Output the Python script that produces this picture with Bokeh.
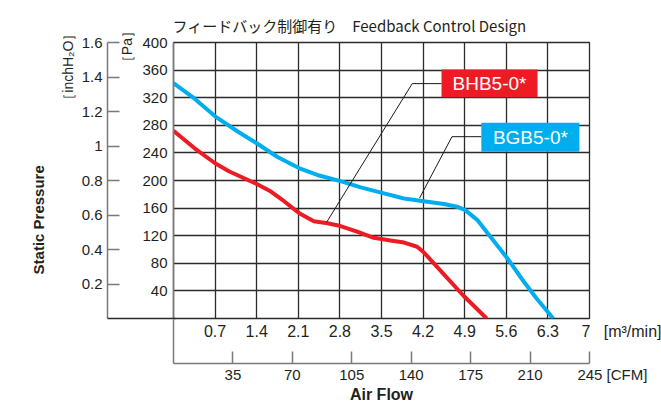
from bokeh.plotting import figure
from bokeh.models import Range1d, LinearAxis, FixedTicker, ColumnDataSource
from bokeh.core.properties import value
from bokeh.embed import file_html
from bokeh.resources import INLINE

# ---- data (air flow in m3/min, static pressure in Pa) ----
flow_bhb = [0, 0.35, 0.7, 0.94, 1.4, 1.64, 1.86, 2.11, 2.36, 2.59, 2.81, 3.09, 3.37,
            3.65, 3.88, 4.1, 4.21, 4.55, 4.88, 5.27]
pa_bhb = [272, 247, 225, 213, 195, 184, 170, 153, 141, 138, 134, 126, 117,
          113, 110, 104, 96, 64, 33, 0]
flow_bgb = [0, 0.35, 0.7, 1.08, 1.4, 1.75, 2.11, 2.42, 2.81, 3.15, 3.51, 3.88, 4.21,
            4.55, 4.77, 4.91, 5.11, 5.33, 5.61, 5.89, 6.11, 6.39]
pa_bgb = [341, 319, 293, 271, 254, 234, 218, 208, 199, 190, 182, 174, 170,
          166, 162, 157, 143, 119, 88, 54, 29, 0]

NB = "\u00a0"
m3_ticks = [0.7, 1.4, 2.1, 2.8, 3.5, 4.2, 4.9, 5.6, 6.3, 7.0]
m3_labels = ["0.7", "1.4", "2.1", "2.8", "3.5", "4.2", "4.9", "5.6", "6.3",
             NB * 16 + "7" + NB * 3 + "[m³/min]"]
cfm_ticks = [35, 70, 105, 140, 175, 210, 245]
cfm_labels = ["35", "70", "105", "140", "175", "210", NB * 11 + "245" + NB + "[CFM]"]
pa_ticks = [40, 80, 120, 160, 200, 240, 280, 320, 360, 400]
inch_ticks = [0.2, 0.4, 0.6, 0.8, 1.0, 1.2, 1.4, 1.6]
inch_labels = ["0.2", "0.4", "0.6", "0.8", "1", "1.2", "1.4", "1.6"]

title_text = "フィードバック制御有り　Feedback Control Design"
series_names = ["BHB5-0*", "BGB5-0*"]
series_colors = ["#ED1C24", "#00AEEF"]
box_colors = ["#ED1C24", "#00AEEF"]
# label boxes and leader lines (data coordinates)
box_left = [4.51, 5.18]
box_right = [6.125, 6.83]
box_bottom = [320.7, 241.8]
box_top = [361, 283.6]
leader_bhb_x = [4.51, 4.017, 2.576]
leader_bhb_y = [340.4, 340.4, 139.4]
leader_bgb_x = [5.18, 4.686, 4.14]
leader_bgb_y = [263.5, 263.5, 174.5]

# unit / axis texts placed through auxiliary axes (positions on the Pa scale)
pa_unit_pos = [394]
pa_unit_text = ["［Pa］"]
inch_unit_pos = [365]
inch_unit_text = ["［inchH₂O］"]
ylabel_pos = [143]
ylabel_text = ["Static Pressure"]

FONT = "Liberation Sans"
TXT = "#231f20"
GRID = "#2b2b2b"
AXC = "#7a7a7a"

p = figure(width=661, height=405, x_range=Range1d(0, 7), y_range=Range1d(0, 400),
           output_backend="svg", toolbar_location=None,
           min_border_left=173, min_border_right=72, min_border_top=42, min_border_bottom=86)
p.background_fill_color = "white"
p.border_fill_color = "white"
p.outline_line_color = GRID
p.outline_line_width = 1.3

p.title.text = title_text
p.title.align = "left"
p.title.offset = -1
p.title.text_font = "Noto Sans CJK JP"
p.title.text_font_size = "15px"
p.title.text_font_style = "normal"
p.title.text_color = TXT
p.title.standoff = 14

p.xgrid.ticker = FixedTicker(ticks=m3_ticks)
p.ygrid.ticker = FixedTicker(ticks=pa_ticks)
for g in (p.xgrid, p.ygrid):
    g.grid_line_color = GRID
    g.grid_line_width = 1.3


def style_labels(ax, size="15px"):
    ax.major_label_text_font = FONT
    ax.major_label_text_font_size = size
    ax.major_label_text_color = TXT


def hidden_axis(ax):
    ax.axis_line_color = None
    ax.major_tick_line_color = None
    ax.minor_tick_line_color = None
    ax.major_tick_in = 0
    ax.major_tick_out = 0
    ax.minor_tick_in = 0
    ax.minor_tick_out = 0


# Pa axis
ya = p.yaxis[0]
ya.ticker = FixedTicker(ticks=pa_ticks)
ya.major_tick_in = 0
ya.major_tick_out = 0
ya.minor_tick_line_color = None
ya.axis_line_color = AXC
ya.axis_line_width = 1.5
ya.major_label_standoff = 6
style_labels(ya)

# [Pa] unit text
pu = LinearAxis(ticker=FixedTicker(ticks=pa_unit_pos),
                major_label_overrides=dict(zip(pa_unit_pos, pa_unit_text)),
                major_label_orientation="vertical")
hidden_axis(pu)
pu.major_label_standoff = 4
style_labels(pu, "14px")
pu.axis_label = " "
pu.axis_label_text_font_size = "6px"
pu.axis_label_standoff = 0
p.add_layout(pu, "left")

# inch H2O axis (minor tick at 0 draws the connector to the Pa axis)
p.extra_y_ranges = {"inch": Range1d(0, 1.6)}
ia = LinearAxis(y_range_name="inch", ticker=FixedTicker(ticks=inch_ticks, minor_ticks=[0]),
                major_label_overrides=dict(zip(inch_ticks, inch_labels)))
ia.major_tick_in = 12
ia.major_tick_out = 0
ia.major_tick_line_color = AXC
ia.major_tick_line_width = 1.5
ia.minor_tick_in = 68
ia.minor_tick_out = 0
ia.minor_tick_line_color = GRID
ia.minor_tick_line_width = 1.3
ia.axis_line_color = AXC
ia.axis_line_width = 1.5
ia.major_label_standoff = 5
style_labels(ia)
p.add_layout(ia, "left")

# [inchH2O] unit text
iu = LinearAxis(ticker=FixedTicker(ticks=inch_unit_pos),
                major_label_overrides=dict(zip(inch_unit_pos, inch_unit_text)),
                major_label_orientation="vertical")
hidden_axis(iu)
iu.major_label_standoff = 2
style_labels(iu, "14px")
p.add_layout(iu, "left")

# "Static Pressure"
sp = LinearAxis(ticker=FixedTicker(ticks=ylabel_pos),
                major_label_overrides=dict(zip(ylabel_pos, ylabel_text)),
                major_label_orientation="vertical")
hidden_axis(sp)
sp.major_label_standoff = 10
style_labels(sp, "15px")
sp.major_label_text_font_style = "bold"
p.add_layout(sp, "left")

# m3/min axis
xa = p.xaxis[0]
xa.ticker = FixedTicker(ticks=m3_ticks)
xa.major_label_overrides = dict(zip(m3_ticks, m3_labels))
xa.major_tick_in = 0
xa.major_tick_out = 0
xa.minor_tick_line_color = None
xa.axis_line_color = None
xa.major_label_standoff = 4
style_labels(xa, "16px")
xa.axis_label = " "
xa.axis_label_text_font_size = "10px"
xa.axis_label_standoff = 7

# CFM axis (minor tick at 0 draws the connector up to the frame)
p.extra_x_ranges = {"cfm": Range1d(0, 245)}
ca = LinearAxis(x_range_name="cfm", ticker=FixedTicker(ticks=cfm_ticks, minor_ticks=[0]),
                major_label_overrides=dict(zip(cfm_ticks, cfm_labels)))
ca.major_tick_in = 12
ca.major_tick_out = 0
ca.major_tick_line_color = AXC
ca.major_tick_line_width = 1.5
ca.minor_tick_in = 44
ca.minor_tick_out = 0
ca.minor_tick_line_color = AXC
ca.minor_tick_line_width = 1.5
ca.axis_line_color = AXC
ca.axis_line_width = 1.5
ca.major_label_standoff = 2
style_labels(ca)
ca.axis_label = "Air Flow"
ca.axis_label_text_font = FONT
ca.axis_label_text_font_size = "16px"
ca.axis_label_text_font_style = "bold"
ca.axis_label_text_color = TXT
ca.axis_label_standoff = 0
p.add_layout(ca, "below")

# curves
p.line(flow_bgb, pa_bgb, line_color=series_colors[1], line_width=4, line_join="round")
p.line(flow_bhb, pa_bhb, line_color=series_colors[0], line_width=4, line_join="round")

# leader lines
p.line(leader_bhb_x, leader_bhb_y, line_color="#1a1a1a", line_width=1)
p.line(leader_bgb_x, leader_bgb_y, line_color="#1a1a1a", line_width=1)

# label boxes
box_src = ColumnDataSource(dict(left=box_left, right=box_right, bottom=box_bottom, top=box_top,
                                color=box_colors, name=series_names,
                                cx=[(a + b) / 2 for a, b in zip(box_left, box_right)],
                                cy=[(a + b) / 2 for a, b in zip(box_bottom, box_top)]))
p.quad(left="left", right="right", bottom="bottom", top="top", fill_color="color",
       line_color=None, source=box_src)
p.text(x="cx", y="cy", text="name", source=box_src, text_color="white",
       text_font=value(FONT), text_font_size="19px", text_align="center",
       text_baseline="middle")

open("out.html", "w").write(file_html(p, INLINE))
